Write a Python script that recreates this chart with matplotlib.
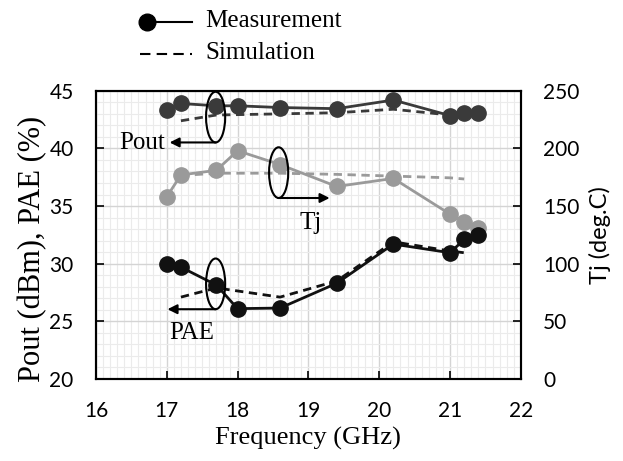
import matplotlib.pyplot as plt
from matplotlib.patches import Ellipse
from matplotlib.lines import Line2D
from matplotlib.ticker import MultipleLocator

# Messdaten / Simulationsdaten
freq_meas = [17.0, 17.2, 17.7, 18.0, 18.6, 19.4, 20.2, 21.0, 21.2, 21.4]
pout_meas = [43.3, 43.9, 43.7, 43.7, 43.55, 43.45, 44.2, 42.85, 43.1, 43.1]
pae_meas = [30.0, 29.7, 28.15, 26.1, 26.15, 28.3, 31.7, 30.95, 32.1, 32.5]
tj_meas = [158, 177, 181, 198, 186, 167, 174, 143, 136, 131]

freq_sim = [17.2, 17.7, 18.6, 19.4, 20.2, 21.0, 21.2]
pout_sim = [42.4, 42.9, 43.0, 43.1, 43.4, 42.9, 42.85]
pae_sim = [27.1, 27.9, 27.1, 28.5, 31.9, 31.1, 30.95]
tj_sim = [176.5, 178.5, 178.5, 177.5, 176.0, 174.5, 173.5]

serif = 'Liberation Serif'
sans = 'Lato'

fig, ax = plt.subplots(figsize=(6.23, 4.61), dpi=100)
fig.subplots_adjust(left=0.154, right=0.836, top=0.803, bottom=0.178)
ax2 = ax.twinx()

# Tj-Achse nach hinten, damit PAE/Pout oben liegen
ax.set_zorder(2)
ax.patch.set_visible(False)
ax2.set_zorder(1)
ax2.xaxis.set_visible(True)

ax.set_xlim(16, 22)
ax.set_ylim(20, 45)
ax2.set_ylim(0, 250)

for a in (ax, ax2):
    a.xaxis.set_major_locator(MultipleLocator(1))
    a.xaxis.set_minor_locator(MultipleLocator(0.1))
ax2.yaxis.set_major_locator(MultipleLocator(50))
ax2.yaxis.set_minor_locator(MultipleLocator(10))
ax.yaxis.set_major_locator(MultipleLocator(5))

ax2.set_axisbelow(True)
ax2.grid(which='major', color='#d4d4d4', lw=1.0)
ax2.grid(which='minor', color='#ebebeb', lw=0.8)
ax2.tick_params(axis='x', which='both', bottom=False, top=False,
                labelbottom=False, labeltop=False)

for a in (ax, ax2):
    a.tick_params(which='major', direction='in', length=6, width=1.2, labelsize=15, pad=16)
    a.tick_params(which='minor', length=0)
    for s in a.spines.values():
        s.set_color('black')
        s.set_linewidth(1.5)
    for lab in a.get_xticklabels() + a.get_yticklabels():
        lab.set_fontfamily(sans)
ax.tick_params(axis='y', right=False)
ax2.tick_params(axis='y', left=False)

c_pout = '#3a3a3a'
c_tj = '#9a9a9a'
c_pae = '#111111'
dash = (3, 2)

ax2.plot(freq_meas, tj_meas, '-o', color=c_tj, lw=2, ms=11)
ax2.plot(freq_sim, tj_sim, '--', color=c_tj, lw=2, dashes=dash)
ax.plot(freq_meas, pout_meas, '-o', color=c_pout, lw=2, ms=11)
ax.plot(freq_sim, pout_sim, '--', color=c_pout, lw=2, dashes=dash)
ax.plot(freq_meas, pae_meas, '-o', color=c_pae, lw=2, ms=11)
ax.plot(freq_sim, pae_sim, '--', color=c_pae, lw=2, dashes=dash)

# Ellipsen mit Pfeilen
arr = dict(arrowstyle='-|>', color='black', lw=1.5, mutation_scale=14, shrinkA=0, shrinkB=0)
for cx, cy, tx in [(17.69, 42.72, 17.04), (18.58, 37.9, 19.3), (17.69, 28.25, 17.01)]:
    ax.add_patch(Ellipse((cx, cy), 0.27, 4.4, fill=False, ec='black', lw=1.5, zorder=5))
    yb = cy - 2.2
    ax.annotate('', xy=(tx, yb), xytext=(cx, yb), arrowprops=arr, zorder=5)

ax.text(16.97, 40.45, 'Pout', family=serif, fontsize=18, ha='right', va='center')
ax.text(19.03, 33.5, 'Tj', family=serif, fontsize=18, ha='center', va='center')
ax.text(17.35, 24.0, 'PAE', family=serif, fontsize=18, ha='center', va='center')

ax.set_xlabel('Frequency (GHz)', family=serif, fontsize=19, labelpad=4)
ax.set_ylabel('Pout (dBm), PAE (%)', family=serif, fontsize=22)
ax.yaxis.set_label_coords(-0.115, 0.45)
ax2.set_ylabel('Tj (deg.C)', family=sans, fontsize=17, labelpad=7)

# Legende oben, Marker am linken Ende wie im Original
W, H = 623, 461
fig.add_artist(Line2D([147 / W, 192 / W], [1 - 22 / H, 1 - 22 / H], color='black', lw=1.5))
fig.add_artist(Line2D([147 / W], [1 - 22 / H], color='black', marker='o', ms=12))
fig.add_artist(Line2D([140 / W, 192 / W], [1 - 54 / H, 1 - 54 / H], color='black', lw=1.5,
                      ls='--', dashes=(5, 3)))
fig.text(205 / W, 1 - 21 / H, 'Measurement', family=serif, fontsize=18, va='center')
fig.text(205 / W, 1 - 53 / H, 'Simulation', family=serif, fontsize=18, va='center')

fig.savefig('out.png', dpi=100)
